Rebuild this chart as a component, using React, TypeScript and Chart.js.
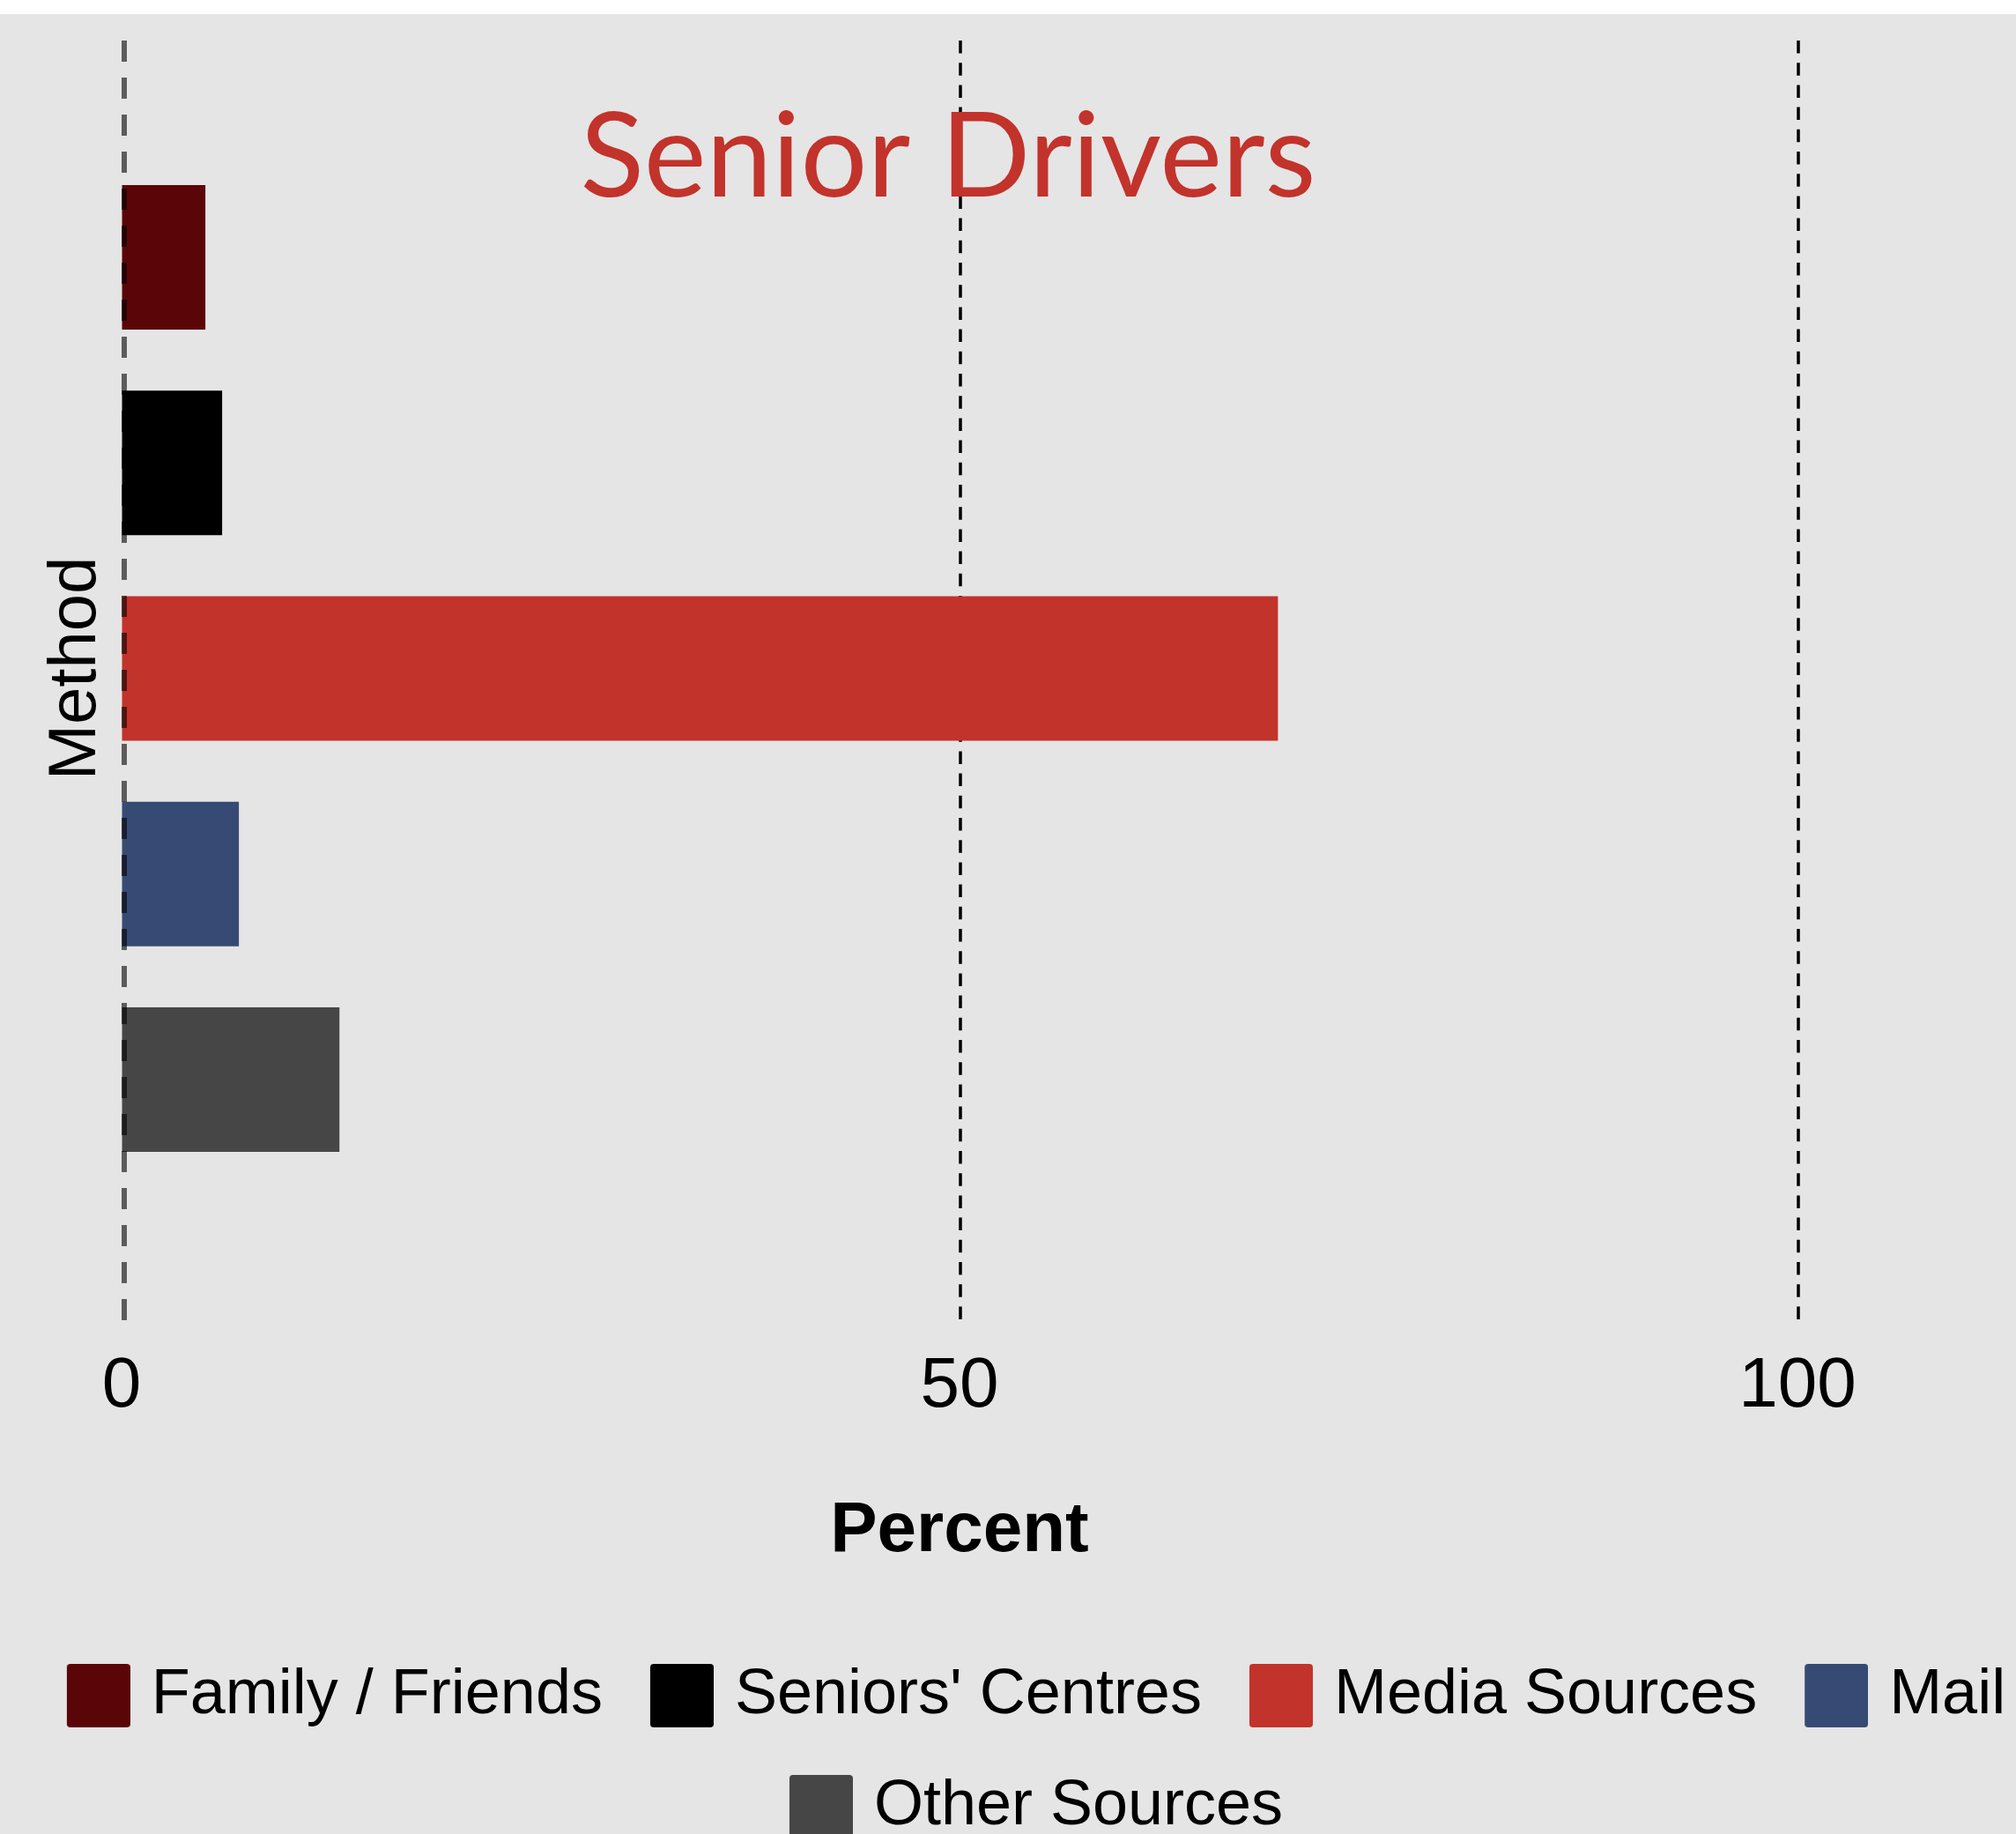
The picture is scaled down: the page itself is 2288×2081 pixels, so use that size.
import React, { useEffect, useRef } from "react";
import { Chart, registerables } from "chart.js";

Chart.register(...registerables);

// ---- data ----
const categories = ["Family / Friends", "Seniors' Centres", "Media Sources", "Mail", "Other Sources"];
const percents = [5, 6, 69, 7, 13];
const barColors = ["#5A0609", "#000000", "#C2332B", "#374A73", "#464646"];
const xTickValues = [0, 50, 100];
const chartTitle = "Senior Drivers";
const xTitle = "Percent";
const yTitle = "Method";

// ---- style ----
const BG = "#E5E5E5";
const TITLE_RED = "#C2332B";
const CANVAS_W = 2352;
const CANVAS_H = 2080;
const SANS = "'Liberation Sans', Arial, sans-serif";

function legendSwatch(color: string): HTMLCanvasElement {
  // 84x72 image, the visible 72x72 rounded square sits in its right part
  const c = document.createElement("canvas");
  c.width = 84;
  c.height = 72;
  const g = c.getContext("2d")!;
  g.fillStyle = color;
  g.beginPath();
  const x = 12, y = 0, w = 72, h = 72, r = 4;
  g.moveTo(x + r, y);
  g.lineTo(x + w - r, y);
  g.arcTo(x + w, y, x + w, y + r, r);
  g.lineTo(x + w, y + h - r);
  g.arcTo(x + w, y + h, x + w - r, y + h, r);
  g.lineTo(x + r, y + h);
  g.arcTo(x, y + h, x, y + h - r, r);
  g.lineTo(x, y + r);
  g.arcTo(x, y, x + r, y, r);
  g.closePath();
  g.fill();
  return c;
}

export default function App() {
  const ref = useRef<HTMLCanvasElement | null>(null);

  useEffect(() => {
    const canvas = ref.current;
    if (!canvas) return;

    const swatches = barColors.map((c) => legendSwatch(c));

    const decor = {
      id: "decor",
      beforeDatasetsDraw(chart: any) {
        const ctx = chart.ctx;
        const xs = chart.scales.x;
        ctx.save();
        ctx.strokeStyle = "#000000";
        ctx.lineWidth = 3.5;
        ctx.setLineDash([14.5, 10.7]);
        xTickValues.filter((v) => v !== 0).forEach((v) => {
          const px = xs.getPixelForValue(v) + 1;
          ctx.beginPath();
          ctx.moveTo(px, 30);
          ctx.lineTo(px, 1482);
          ctx.stroke();
        });
        ctx.restore();
      },
      afterDatasetsDraw(chart: any) {
        const ctx = chart.ctx;
        const xs = chart.scales.x;
        ctx.save();
        // zero reference line
        ctx.strokeStyle = "rgba(0,0,0,0.6)";
        ctx.lineWidth = 6;
        ctx.setLineDash([24, 18]);
        const px = xs.getPixelForValue(0) + 3;
        ctx.beginPath();
        ctx.moveTo(px, 30);
        ctx.lineTo(px, 1482);
        ctx.stroke();
        ctx.setLineDash([]);
        // title inside the panel
        ctx.font = "400 134px Lato";
        ctx.fillStyle = TITLE_RED;
        ctx.textAlign = "center";
        ctx.textBaseline = "alphabetic";
        ctx.fillText(chartTitle, 1076, 207);
        ctx.restore();
      },
    };

    const chart = new Chart(canvas, {
      type: "bar",
      data: {
        labels: categories,
        datasets: categories.map((c, i) => ({
          label: c,
          data: categories.map((_, j) => (j === i ? percents[i] : null)),
          backgroundColor: barColors[i],
          borderWidth: 0,
        })),
      },
      options: {
        animation: false,
        responsive: false,
        indexAxis: "y",
        layout: { padding: { top: 159.3, left: 0, right: 0, bottom: 0 } },
        datasets: {
          bar: { grouped: false, categoryPercentage: 0.703, barPercentage: 1 },
        },
        scales: {
          x: {
            type: "linear",
            min: 0,
            max: 100,
            afterBuildTicks: (s: any) => {
              s.ticks = xTickValues.map((v) => ({ value: v }));
            },
            grid: {
              display: true,
              drawOnChartArea: false,
              drawTicks: true,
              tickLength: 184,
              color: "rgba(0,0,0,0)",
            },
            border: { display: false },
            ticks: {
              padding: 0,
              maxRotation: 0,
              autoSkip: false,
              color: "#000000",
              font: { family: SANS, size: 80 },
            },
            title: {
              display: true,
              text: xTitle,
              color: "#000000",
              font: { family: SANS, size: 80, weight: "bold" },
              padding: { top: 68.3, bottom: 48 },
            },
          },
          y: {
            type: "category",
            grid: { display: false, drawTicks: false },
            border: { display: false },
            ticks: { display: false },
            title: {
              display: true,
              text: yTitle,
              color: "#000000",
              font: { family: SANS, size: 76 },
              padding: { top: 41.1, bottom: 5.7 },
            },
          },
          yRight: {
            type: "linear",
            position: "right",
            display: true,
            grid: { display: false, drawTicks: false },
            border: { display: false },
            ticks: { display: false },
            afterFit: (s: any) => {
              s.width = CANVAS_W - 2040;
            },
          },
        },
        plugins: {
          legend: {
            position: "bottom",
            labels: {
              usePointStyle: true,
              pointStyleWidth: 60,
              boxHeight: 72,
              padding: 54,
              color: "#000000",
              font: { family: SANS, size: 72 },
              generateLabels: (ch: any) => {
                const items = Chart.defaults.plugins.legend.labels.generateLabels(ch);
                return items.map((it: any, i: number) => ({ ...it, pointStyle: swatches[i] }));
              },
            },
          },
          tooltip: { enabled: false },
          title: { display: false },
        },
      } as any,
      plugins: [decor],
    });

    return () => chart.destroy();
  }, []);

  return (
    <div
      style={{
        position: "fixed",
        left: 0,
        top: 16,
        width: 2288,
        height: 2065,
        overflow: "hidden",
        background: BG,
      }}
    >
      <canvas
        ref={ref}
        width={CANVAS_W}
        height={CANVAS_H}
        style={{ display: "block", width: CANVAS_W, height: CANVAS_H, background: BG }}
      />
    </div>
  );
}
